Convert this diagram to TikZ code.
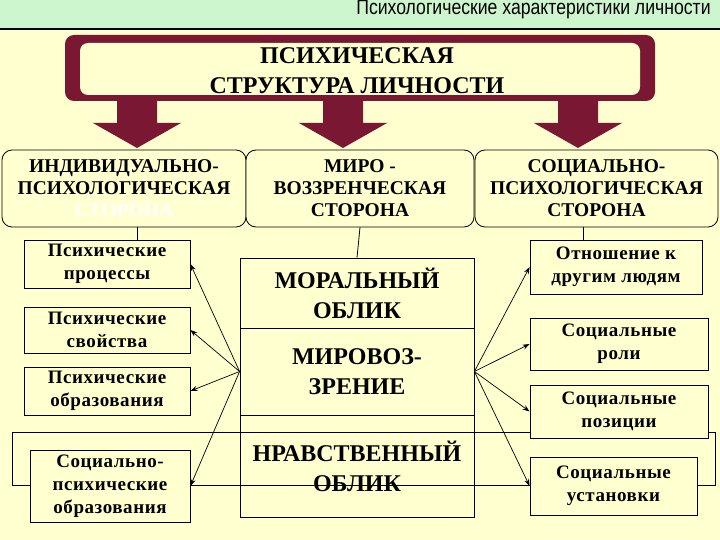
\documentclass[tikz,border=0pt]{standalone}
\usepackage{fontspec}
\setmainfont{Liberation Serif}
\newfontfamily\headfont[FakeStretch=0.84]{Liberation Sans}
\definecolor{cream}{RGB}{255,255,208}
\definecolor{mint}{RGB}{206,246,206}
\definecolor{maroon}{RGB}{122,24,52}
\usetikzlibrary{arrows.meta}

\begin{document}
\begin{tikzpicture}[x=1pt,y=-1pt,line width=0.8pt,
    side/.style={draw,fill=cream,rounded corners=10pt,minimum height=77pt,align=center,inner sep=0pt,font=\bfseries\fontsize{19.5}{22}\selectfont},
    item/.style={draw,fill=cream,align=center,inner sep=0pt,font=\bfseries\fontsize{19}{23}\selectfont\addfontfeatures{LetterSpace=3}},
    part/.style={draw,minimum width=234pt,align=center,inner sep=0pt,font=\bfseries\fontsize{24}{30}\selectfont},
    link/.style={-{Stealth[length=7pt,width=5pt]},line width=0.7pt}]
  \useasboundingbox (0,0) rectangle (720,540);
  \fill[cream] (0,0) rectangle (720,540);
  \fill[mint] (0,0) rectangle (720,29);
  \draw[line width=1.5pt] (0,29) -- (720,29);
  \node[anchor=base east,inner sep=0pt,font=\headfont\fontsize{21}{21}\selectfont] (head) at (711,15) {Психологические характеристики личности};
  \fill[maroon,rounded corners=9pt] (65,35) rectangle (655,101);
  \node[fill=cream,rounded corners=8pt,minimum width=560pt,minimum height=52pt] (box) at (360,69) {};
  \node[align=center,inner sep=0pt,font=\bfseries\fontsize{24}{30}\selectfont] (psy) at (357,71) {ПСИХИЧЕСКАЯ\\СТРУКТУРА ЛИЧНОСТИ};
  \foreach \x in {137,343,578}
    \fill[maroon] (\x-20,100) -- (\x+20,100) -- (\x+20,123) -- (\x+44,123) -- (\x,148) -- (\x-44,123) -- (\x-20,123) -- cycle;
  \draw (12,432) rectangle (715,485);
  \node[side,minimum width=244pt] (indiv) at (124,188.5) {ИНДИВИДУАЛЬНО-\\ПСИХОЛОГИЧЕСКАЯ\\{\color{white}СТОРОНА}};
  \node[side,minimum width=228pt] (mirstor) at (360,188.5) {МИРО -\\ВОЗЗРЕНЧЕСКАЯ\\СТОРОНА};
  \node[side,minimum width=243pt] (socstor) at (596.5,188.5) {СОЦИАЛЬНО-\\ПСИХОЛОГИЧЕСКАЯ\\СТОРОНА};
  \node[item,minimum width=166pt,minimum height=48pt] (proc) at (107,264) {Психические\\процессы};
  \node[item,minimum width=166pt,minimum height=46pt] (svoi) at (107,330) {Психические\\свойства};
  \node[item,minimum width=166pt,minimum height=48pt] (obraz) at (107,391) {Психические\\образования};
  \node[item,minimum width=160pt,minimum height=72pt] (socps) at (110,486) {Социально-\\психические\\образования};
  \node[part,minimum height=70pt] (moral) at (357,293) {МОРАЛЬНЫЙ\\ОБЛИК};
  \node[part,minimum height=87pt] (mirov) at (357,371.5) {МИРОВОЗ-\\ЗРЕНИЕ};
  \node[part,minimum height=102pt] (nravst) at (357,466) {НРАВСТВЕННЫЙ\\ОБЛИК};
  \node[item,minimum width=172pt,minimum height=54pt] (otnosh) at (616,267) {Отношение к\\другим людям};
  \node[item,minimum width=178pt,minimum height=52pt] (roli) at (619,344) {Социальные\\роли};
  \node[item,minimum width=178pt,minimum height=53pt] (pozic) at (619,411.5) {Социальные\\позиции};
  \node[item,minimum width=167pt,minimum height=58pt] (ustan) at (613.5,486) {Социальные\\установки};
  \coordinate (c1) at (137,0);
  \coordinate (c3) at (583,0);
  \draw (indiv.south -| c1) -- (proc.north -| c1);
  \draw (mirstor.south) -- (moral.north);
  \draw (socstor.south -| c3) -- (otnosh.north -| c3);
  \foreach \t in {proc,svoi,obraz,socps} \draw[link] (mirov.west) -- (\t.east);
  \foreach \t in {otnosh,roli,pozic,ustan} \draw[link] (mirov.east) -- (\t.west);
\end{tikzpicture}
\end{document}
